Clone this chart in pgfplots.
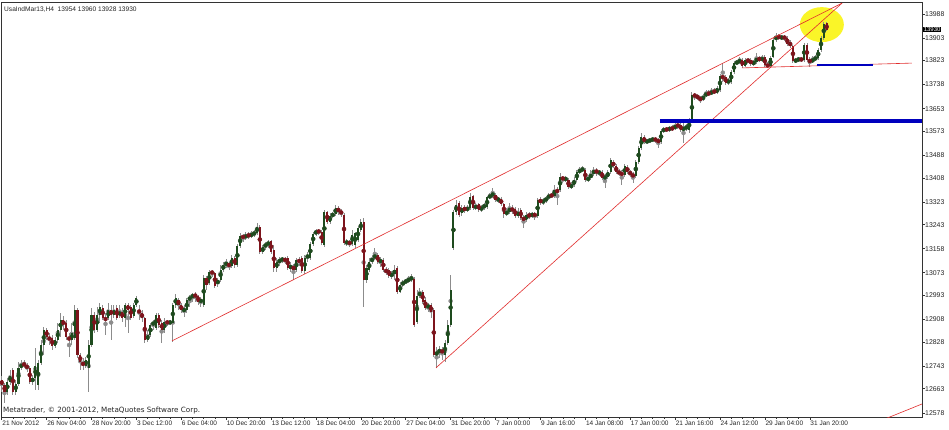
\documentclass[border=0pt]{standalone}
\usepackage{fontspec}
\setmainfont{Liberation Sans}
\newfontfamily\msgfont{DejaVu Sans}
\usepackage{pgfplots}
\pgfplotsset{compat=1.18}
\usepackage{pgfplotstable}

\definecolor{wick}{RGB}{140,140,140}
\definecolor{bull}{RGB}{30,75,30}
\definecolor{bear}{RGB}{125,20,28}
\definecolor{trend}{RGB}{225,45,45}
\definecolor{lvl}{RGB}{0,0,190}
\definecolor{hilite}{RGB}{250,245,40}

% UsaIndMar13, H4 bars: index, open, high, low, close
\pgfplotstableread{
i o h l c
0 12694 12708 12652 12676
1 12676 12683 12613 12652
2 12652 12701 12641 12687
3 12687 12730 12676 12708
4 12730 12737 12641 12652
5 12652 12694 12641 12680
6 12680 12758 12673 12737
7 12737 12765 12730 12751
8 12754 12765 12737 12744
9 12744 12754 12722 12737
10 12737 12744 12680 12687
11 12687 12712 12676 12701
12 12701 12807 12659 12744
13 12676 12765 12659 12754
14 12754 12835 12747 12818
15 12818 12881 12782 12871
16 12871 12878 12835 12846
17 12846 12860 12818 12835
18 12842 12853 12800 12814
19 12814 12846 12807 12835
20 12835 12896 12825 12871
21 12871 12931 12846 12906
22 12906 12920 12871 12888
23 12896 12906 12835 12846
24 12846 12860 12775 12835
25 12835 12896 12818 12860
26 12842 12959 12835 12941
27 12941 12949 12772 12782
28 12782 12790 12730 12758
29 12758 12772 12730 12744
30 12744 12775 12737 12765
31 12737 12835 12652 12818
32 12818 12949 12811 12924
33 12924 12934 12860 12871
34 12871 12952 12864 12924
35 12924 12966 12896 12952
36 12949 12959 12906 12913
37 12913 12931 12853 12906
38 12913 12966 12906 12941
39 12941 12959 12835 12924
40 12924 12959 12913 12941
41 12949 12959 12906 12913
42 12924 12959 12913 12934
43 12934 12949 12899 12913
44 12913 12966 12881 12959
45 12959 12966 12860 12941
46 12952 12959 12906 12913
47 12920 12966 12913 12959
48 12959 12991 12952 12984
49 12941 12959 12906 12931
50 12931 12941 12899 12913
51 12913 12917 12825 12835
52 12835 12871 12828 12853
53 12853 12896 12846 12888
54 12888 12906 12871 12899
55 12878 12931 12871 12924
56 12924 12931 12878 12888
57 12896 12906 12825 12871
58 12871 12913 12860 12899
59 12899 12906 12885 12896
60 12896 12906 12888 12899
61 12896 12966 12828 12959
62 12959 12998 12949 12984
63 12977 12984 12941 12959
64 12959 12966 12931 12941
65 12934 12959 12917 12949
66 12941 12984 12931 12977
67 12977 12994 12952 12987
68 12987 13002 12970 12994
69 12994 13005 12970 12991
70 12991 12994 12959 12970
71 12970 12987 12952 12977
72 12959 13065 12952 13055
73 13055 13062 13012 13030
74 13037 13083 13030 13076
75 13076 13083 13058 13072
76 13072 13076 13019 13026
77 13033 13055 13023 13048
78 13048 13101 13040 13083
79 13083 13111 13076 13101
80 13101 13122 13090 13108
81 13108 13111 13083 13093
82 13097 13136 13090 13125
83 13125 13132 13090 13101
84 13101 13175 13093 13168
85 13168 13214 13161 13203
86 13203 13210 13182 13196
87 13196 13217 13189 13207
88 13207 13217 13192 13203
89 13203 13221 13196 13210
90 13210 13224 13199 13214
91 13214 13249 13207 13235
92 13235 13242 13139 13146
93 13146 13171 13139 13164
94 13164 13182 13154 13175
95 13175 13189 13161 13178
96 13185 13189 13139 13146
97 13154 13171 13076 13090
98 13090 13125 13076 13111
99 13111 13129 13097 13118
100 13118 13129 13108 13122
101 13122 13129 13104 13115
102 13125 13132 13083 13090
103 13090 13111 13076 13097
104 13097 13104 13048 13083
105 13083 13125 13076 13118
106 13118 13129 13097 13111
107 13125 13132 13072 13079
108 13079 13136 13069 13125
109 13125 13146 13111 13136
110 13125 13182 13118 13175
111 13175 13217 13168 13210
112 13210 13228 13203 13221
113 13221 13228 13207 13217
114 13217 13224 13171 13178
115 13171 13295 13164 13288
116 13288 13291 13245 13252
117 13252 13284 13245 13274
118 13274 13288 13267 13281
119 13281 13312 13274 13302
120 13302 13309 13277 13288
121 13288 13298 13270 13284
122 13277 13284 13171 13178
123 13178 13192 13168 13182
124 13182 13189 13164 13175
125 13175 13224 13168 13207
126 13171 13217 13161 13214
127 13189 13238 13182 13231
128 13224 13263 13217 13252
129 13252 13267 12952 13048
130 13048 13101 13037 13090
131 13083 13125 13076 13111
132 13111 13136 13104 13125
133 13125 13161 13118 13136
134 13136 13143 13104 13111
135 13111 13129 13093 13118
136 13118 13125 13076 13083
137 13083 13093 13065 13076
138 13083 13090 13055 13062
139 13062 13079 13051 13069
140 13069 13101 13048 13083
141 13090 13097 12998 13005
142 13005 13040 13002 13030
143 13030 13048 13023 13040
144 13040 13051 13033 13044
145 13044 13062 13037 13051
146 13051 13069 13040 13055
147 13051 13058 12881 12888
148 12899 13012 12892 12991
149 12991 13019 12984 13005
150 13005 13012 12963 12970
151 12977 12987 12941 12949
152 12949 12966 12934 12959
153 12959 12966 12913 12934
154 12941 12949 12775 12782
155 12782 12811 12737 12793
156 12793 12814 12772 12800
157 12800 12811 12765 12790
158 12782 12835 12758 12825
159 12825 12906 12818 12888
160 12888 13065 12881 13012
161 13161 13295 13154 13288
162 13288 13330 13277 13312
163 13320 13327 13270 13277
164 13284 13312 13274 13302
165 13302 13312 13284 13295
166 13295 13312 13288 13302
167 13302 13355 13295 13341
168 13344 13348 13295 13302
169 13302 13320 13295 13309
170 13316 13320 13288 13295
171 13295 13312 13288 13305
172 13305 13320 13295 13312
173 13305 13344 13298 13341
174 13341 13355 13334 13344
175 13344 13373 13337 13355
176 13348 13355 13323 13330
177 13330 13341 13320 13334
178 13334 13341 13309 13316
179 13316 13320 13267 13281
180 13281 13302 13274 13288
181 13288 13320 13281 13302
182 13302 13312 13281 13291
183 13298 13305 13267 13274
184 13274 13302 13267 13288
185 13295 13302 13260 13267
186 13267 13277 13231 13260
187 13260 13288 13252 13277
188 13277 13288 13263 13274
189 13274 13288 13267 13281
190 13281 13288 13260 13274
191 13274 13337 13267 13330
192 13330 13341 13312 13323
193 13323 13337 13312 13327
194 13327 13344 13320 13337
195 13337 13355 13330 13348
196 13348 13355 13337 13344
197 13344 13383 13337 13366
198 13366 13376 13312 13358
199 13366 13426 13358 13412
200 13412 13415 13390 13401
201 13401 13415 13394 13408
202 13401 13408 13369 13376
203 13376 13394 13369 13383
204 13383 13412 13376 13401
205 13401 13436 13394 13429
206 13429 13447 13422 13436
207 13436 13450 13429 13440
208 13436 13443 13394 13401
209 13401 13419 13394 13408
210 13408 13436 13401 13422
211 13422 13447 13415 13436
212 13436 13443 13415 13426
213 13426 13436 13415 13429
214 13429 13436 13401 13408
215 13408 13422 13373 13412
216 13412 13436 13404 13429
217 13429 13479 13422 13472
218 13464 13472 13443 13450
219 13450 13457 13422 13429
220 13429 13440 13415 13426
221 13426 13436 13383 13419
222 13419 13457 13412 13450
223 13447 13454 13422 13429
224 13429 13436 13412 13422
225 13422 13429 13390 13412
226 13415 13472 13408 13464
227 13464 13521 13457 13514
228 13514 13567 13507 13553
229 13553 13560 13528 13535
230 13535 13546 13528 13539
231 13539 13549 13532 13542
232 13542 13553 13535 13546
233 13546 13553 13532 13542
234 13542 13549 13514 13535
235 13535 13581 13528 13574
236 13574 13588 13567 13581
237 13581 13588 13571 13578
238 13578 13592 13571 13585
239 13585 13595 13574 13581
240 13581 13602 13578 13595
241 13595 13606 13581 13592
242 13595 13602 13571 13578
243 13578 13602 13532 13585
244 13585 13599 13574 13588
245 13578 13620 13567 13613
246 13613 13712 13606 13701
247 13701 13708 13684 13698
248 13698 13705 13684 13691
249 13691 13698 13673 13684
250 13684 13705 13680 13698
251 13698 13719 13694 13708
252 13708 13719 13698 13705
253 13705 13726 13701 13715
254 13715 13726 13705 13712
255 13708 13733 13705 13726
256 13719 13776 13712 13768
257 13768 13814 13747 13761
258 13765 13772 13737 13744
259 13744 13761 13737 13754
260 13747 13790 13740 13783
261 13783 13821 13776 13814
262 13814 13825 13807 13818
263 13818 13836 13811 13825
264 13825 13832 13797 13804
265 13804 13832 13800 13825
266 13825 13832 13814 13821
267 13825 13832 13804 13811
268 13811 13825 13804 13818
269 13818 13850 13811 13832
270 13832 13839 13818 13825
271 13825 13843 13818 13832
272 13836 13843 13800 13807
273 13807 13818 13797 13804
274 13804 13839 13797 13832
275 13836 13903 13832 13896
276 13896 13920 13889 13910
277 13910 13917 13896 13903
278 13903 13913 13896 13906
279 13906 13913 13892 13903
280 13903 13910 13874 13882
281 13889 13896 13867 13874
282 13874 13878 13814 13821
283 13821 13832 13814 13825
284 13825 13836 13818 13829
285 13829 13836 13818 13825
286 13825 13885 13818 13878
287 13878 13885 13818 13825
288 13825 13836 13800 13818
289 13818 13839 13814 13829
290 13829 13843 13821 13832
291 13832 13867 13825 13860
292 13860 13910 13853 13903
293 13903 13958 13896 13954
294 13954 13960 13928 13930
}\bars

\begin{document}
\begin{tikzpicture}
\fill[white] (0,0) rectangle (949pt,429pt);
\useasboundingbox (0,0) rectangle (949pt,429pt);
\begin{axis}[
  at={(1pt,12pt)}, anchor=south west,
  scale only axis, width=921pt, height=415pt,
  xmin=-0.25, xmax=328, ymin=12563, ymax=14030,
  clip mode=individual,
  axis line style={black!80, line width=0.6pt},
  tick align=outside, major tick length=3pt,
  minor tick length=1.5pt, minor x tick num=3,
  tick style={black!80, line width=0.5pt},
  xtick pos=left, ytick pos=right, yticklabel pos=right,
  xtick={0,16,...,288},
  xticklabels={21 Nov 2012, 26 Nov 04:00, 28 Nov 20:00, 3 Dec 12:00, 6 Dec 04:00,
    10 Dec 20:00, 13 Dec 12:00, 18 Dec 04:00, 20 Dec 20:00, 27 Dec 04:00,
    31 Dec 20:00, 7 Jan 00:00, 9 Jan 16:00, 14 Jan 08:00, 17 Jan 00:00,
    21 Jan 16:00, 24 Jan 12:00, 29 Jan 04:00, 31 Jan 20:00},
  ytick={13988,13903,13823,13738,13653,13573,13488,13408,13323,13243,13158,
    13073,12993,12908,12828,12743,12663,12578},
  yticklabels={13988,13903,13823,13738,13653,13573,13488,13408,13323,13243,13158,
    13073,12993,12908,12828,12743,12663,12578},
  xticklabel style={font=\fontsize{6.5}{7}\selectfont, anchor=north west,
    inner sep=0pt, xshift=0.5pt, yshift=-1pt, text=black!85},
  yticklabel style={font=\fontsize{6.9}{8}\selectfont, anchor=west,
    inner sep=0pt, text=black!85},
  /pgf/number format/assume math mode=true,
]
% highlight ellipse behind the bars
\fill[hilite] (axis cs:292.3,13950) ellipse [x radius=22pt, y radius=17.5pt];

% wicks
\addplot[wick, only marks, mark=none,
  error bars/.cd, y dir=both, y explicit, error mark=none,
  error bar style={line width=0.9pt, draw=wick}]
  table[x=i, y expr={(\thisrow{h}+\thisrow{l})/2},
        y error expr={(\thisrow{h}-\thisrow{l})/2}] {\bars};
% up bodies
\addplot[bull, only marks, mark=none,
  restrict expr to domain={\thisrow{c}-\thisrow{o}}{0:5000},
  error bars/.cd, y dir=both, y explicit, error mark=none,
  error bar style={line width=2.1pt, draw=bull}]
  table[x=i, y expr={(\thisrow{o}+\thisrow{c})/2},
        y error expr={(\thisrow{c}-\thisrow{o})/2}] {\bars};
% down bodies
\addplot[bear, only marks, mark=none,
  restrict expr to domain={\thisrow{c}-\thisrow{o}}{-5000:-0.5},
  error bars/.cd, y dir=both, y explicit, error mark=none,
  error bar style={line width=2.1pt, draw=bear}]
  table[x=i, y expr={(\thisrow{o}+\thisrow{c})/2},
        y error expr={(\thisrow{o}-\thisrow{c})/2}] {\bars};

% trend lines
\addplot[trend, line width=0.6pt] coordinates {(60.7,12832) (299.5,14026)};
\addplot[trend, line width=0.6pt] coordinates {(154.8,12737) (299.5,14026)};
\addplot[trend, line width=0.6pt] coordinates {(263.8,13797) (324.4,13814)};
\addplot[trend, line width=0.6pt] coordinates {(313,12549) (328,12609)};
% levels
\addplot[lvl, line width=3.5pt] coordinates {(234.6,13609) (328,13609)};
\addplot[lvl, line width=2.5pt] coordinates {(290.6,13807) (310.5,13807)};

\node[anchor=west, inner sep=0pt, font=\fontsize{6.6}{8}\selectfont, text=black!85]
  at (rel axis cs:0,1) [xshift=3pt, yshift=-8pt] {UsaIndMar13,H4\ \ 13954 13960 13928 13930};
\node[anchor=west, inner sep=0pt, font=\msgfont\fontsize{7.2}{9}\selectfont, text=black!85]
  at (rel axis cs:0,0) [xshift=2pt, yshift=6pt] {Metatrader, © 2001-2012, MetaQuotes Software Corp.};
\node[anchor=west, fill=black, text=white, inner sep=0.6pt, font=\fontsize{6}{7}\selectfont]
  at (axis cs:328,13930) [xshift=1pt, yshift=1pt] {13930};
\end{axis}
\end{tikzpicture}
\end{document}
